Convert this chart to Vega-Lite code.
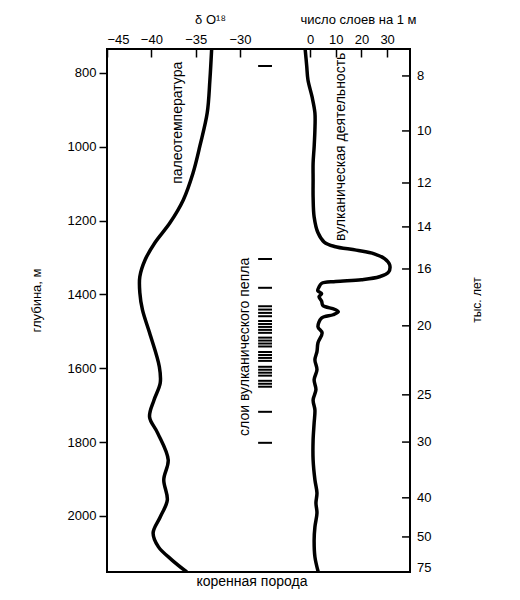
{
  "$schema": "https://vega.github.io/schema/vega-lite/v6.json",
  "width": 303,
  "height": 523,
  "autosize": {"type": "none"},
  "padding": {"left": 107, "top": 49, "right": 110, "bottom": 28},
  "background": "white",
  "config": {
    "font": "Liberation Sans",
    "view": {"stroke": "black", "strokeWidth": 2},
    "axis": {"labelFontSize": 13, "labelColor": "black", "tickColor": "black", "tickWidth": 1.5, "titleFontSize": 13, "titleFontWeight": "normal", "titleColor": "black", "grid": false, "domain": false}
  },
  "datasets": {
    "d18o": [
      {"depth": 735, "d18o": -33.2}, {"depth": 819, "d18o": -33.4}, {"depth": 908, "d18o": -33.7},
      {"depth": 995, "d18o": -34.5}, {"depth": 1071, "d18o": -35.3}, {"depth": 1144, "d18o": -36.4},
      {"depth": 1206, "d18o": -37.9}, {"depth": 1260, "d18o": -39.6}, {"depth": 1306, "d18o": -40.7},
      {"depth": 1352, "d18o": -41.3}, {"depth": 1395, "d18o": -41.3}, {"depth": 1442, "d18o": -41.0},
      {"depth": 1504, "d18o": -40.2}, {"depth": 1596, "d18o": -39.1}, {"depth": 1640, "d18o": -39.0},
      {"depth": 1686, "d18o": -39.7}, {"depth": 1732, "d18o": -40.2}, {"depth": 1775, "d18o": -39.3},
      {"depth": 1848, "d18o": -38.1}, {"depth": 1902, "d18o": -38.6}, {"depth": 1957, "d18o": -38.2},
      {"depth": 2003, "d18o": -39.0}, {"depth": 2046, "d18o": -39.8}, {"depth": 2084, "d18o": -39.2},
      {"depth": 2119, "d18o": -37.7}, {"depth": 2152, "d18o": -36.0}
    ],
    "volcanic": [
      {"depth": 735, "count": -1.9}, {"depth": 780, "count": -1.3}, {"depth": 819, "count": -0.8},
      {"depth": 865, "count": 0.8}, {"depth": 908, "count": 1.9}, {"depth": 954, "count": 1.9},
      {"depth": 1000, "count": 1.6}, {"depth": 1044, "count": 1.2}, {"depth": 1090, "count": 1.2},
      {"depth": 1136, "count": 1.2}, {"depth": 1190, "count": 1.6}, {"depth": 1233, "count": 3.1},
      {"depth": 1258, "count": 5.5}, {"depth": 1270, "count": 9.5}, {"depth": 1280, "count": 18},
      {"depth": 1290, "count": 25}, {"depth": 1303, "count": 29}, {"depth": 1320, "count": 31},
      {"depth": 1340, "count": 30.5}, {"depth": 1352, "count": 27}, {"depth": 1360, "count": 20},
      {"depth": 1365, "count": 10}, {"depth": 1370, "count": 4.5}, {"depth": 1380, "count": 3.5},
      {"depth": 1390, "count": 3.0}, {"depth": 1398, "count": 4.5}, {"depth": 1406, "count": 3.5},
      {"depth": 1418, "count": 4.5}, {"depth": 1430, "count": 5.0}, {"depth": 1440, "count": 9.5},
      {"depth": 1447, "count": 11}, {"depth": 1455, "count": 9}, {"depth": 1464, "count": 4.5},
      {"depth": 1488, "count": 3.1}, {"depth": 1504, "count": 4.7}, {"depth": 1531, "count": 3.1},
      {"depth": 1555, "count": 2.7}, {"depth": 1577, "count": 1.9}, {"depth": 1604, "count": 2.7},
      {"depth": 1631, "count": 1.6}, {"depth": 1658, "count": 2.3}, {"depth": 1686, "count": 1.2},
      {"depth": 1713, "count": 1.9}, {"depth": 1748, "count": 1.6}, {"depth": 1794, "count": 1.2},
      {"depth": 1848, "count": 1.2}, {"depth": 1902, "count": 1.9}, {"depth": 1938, "count": 2.7},
      {"depth": 1965, "count": 2.3}, {"depth": 1992, "count": 2.7}, {"depth": 2030, "count": 1.9},
      {"depth": 2065, "count": 1.6}, {"depth": 2111, "count": 1.9}, {"depth": 2152, "count": 3.2}
    ],
    "ash": [
      {"depth": 781}, {"depth": 1304}, {"depth": 1382},
      {"depth": 1432}, {"depth": 1441}, {"depth": 1450}, {"depth": 1459},
      {"depth": 1472}, {"depth": 1480}, {"depth": 1488}, {"depth": 1496}, {"depth": 1504},
      {"depth": 1517}, {"depth": 1525}, {"depth": 1533}, {"depth": 1541},
      {"depth": 1556}, {"depth": 1564}, {"depth": 1572}, {"depth": 1580},
      {"depth": 1596}, {"depth": 1604}, {"depth": 1612}, {"depth": 1620},
      {"depth": 1634}, {"depth": 1642}, {"depth": 1650},
      {"depth": 1718}, {"depth": 1802}
    ],
    "ages": [
      {"depth": 808, "age": 8}, {"depth": 957, "age": 10}, {"depth": 1098, "age": 12},
      {"depth": 1217, "age": 14}, {"depth": 1331, "age": 16}, {"depth": 1485, "age": 20},
      {"depth": 1672, "age": 25}, {"depth": 1800, "age": 30}, {"depth": 1951, "age": 40},
      {"depth": 2057, "age": 50}, {"depth": 2141, "age": 75}
    ],
    "labels": [
      {"label": "палеотемпература", "x": -51.4, "depth": 935, "kind": "v"},
      {"label": "вулканическая деятельность", "x": 12, "depth": 1000, "kind": "v"},
      {"label": "слои вулканического пепла", "x": -25.3, "depth": 1542, "kind": "v"},
      {"label": "коренная порода", "x": -22.6, "depth": 2179, "kind": "h"},
      {"label": "тыс. лет", "x": 65, "depth": 1415, "kind": "t"}
    ]
  },
  "layer": [
    {
      "data": {"name": "d18o"},
      "mark": {"type": "line", "color": "black", "strokeWidth": 3.5, "interpolate": "catmull-rom", "clip": true},
      "encoding": {
        "x": {"field": "d18o", "type": "quantitative",
          "scale": {"domain": [-45, -10.84], "nice": false, "zero": false},
          "axis": {"orient": "top", "values": [-45, -40, -35, -30], "tickSize": -8, "labelPadding": 11, "labelFlush": true,
            "title": "δ O¹⁸", "titleX": 103, "titleY": -26, "titleAlign": "center", "titleBaseline": "alphabetic"}},
        "y": {"field": "depth", "type": "quantitative",
          "scale": {"domain": [735, 2152], "reverse": true, "nice": false, "zero": false},
          "axis": {"orient": "left", "values": [800, 1000, 1200, 1400, 1600, 1800, 2000], "format": "d", "tickSize": 8, "labelPadding": 3,
            "title": "глубина, м", "titleX": -71, "titleY": 251, "titleAngle": 270, "titleAlign": "center", "titleBaseline": "middle"}},
        "order": {"field": "depth", "type": "quantitative"}
      }
    },
    {
      "layer": [
        {
          "data": {"name": "volcanic"},
          "mark": {"type": "line", "color": "black", "strokeWidth": 3.5, "interpolate": "catmull-rom", "clip": true},
          "encoding": {
            "x": {"field": "count", "type": "quantitative",
              "scale": {"domain": [-79, 38.9], "nice": false, "zero": false},
              "axis": {"orient": "top", "values": [0, 10, 20, 30], "tickSize": -8, "labelPadding": 11,
                "title": "число слоев на 1 м", "titleX": 251, "titleY": -26, "titleAlign": "center", "titleBaseline": "alphabetic"}},
            "y": {"field": "depth", "type": "quantitative"},
            "order": {"field": "depth", "type": "quantitative"}
          }
        },
        {
          "data": {"name": "ash"},
          "mark": {"type": "rule", "color": "black", "strokeWidth": 2},
          "encoding": {
            "x": {"datum": -20.2},
            "x2": {"datum": -14.8},
            "y": {"field": "depth", "type": "quantitative"}
          }
        },
        {
          "data": {"name": "ages"},
          "transform": [{"filter": "datum.age < 75"}],
          "mark": {"type": "rule", "color": "black", "strokeWidth": 1.5},
          "encoding": {
            "x": {"datum": 35.8},
            "x2": {"datum": 38.9},
            "y": {"field": "depth", "type": "quantitative"}
          }
        },
        {
          "data": {"name": "ages"},
          "mark": {"type": "text", "color": "black", "fontSize": 13, "align": "left", "baseline": "middle", "dx": 7},
          "encoding": {
            "x": {"datum": 38.9},
            "y": {"field": "depth", "type": "quantitative"},
            "text": {"field": "age", "type": "quantitative"}
          }
        },
        {
          "data": {"name": "labels"},
          "transform": [{"filter": "datum.kind == 'v'"}],
          "mark": {"type": "text", "color": "black", "fontSize": 14, "angle": 270, "align": "center", "baseline": "middle"},
          "encoding": {
            "x": {"field": "x", "type": "quantitative"},
            "y": {"field": "depth", "type": "quantitative"},
            "text": {"field": "label"}
          }
        },
        {
          "data": {"name": "labels"},
          "transform": [{"filter": "datum.kind == 't'"}],
          "mark": {"type": "text", "color": "black", "fontSize": 12, "angle": 270, "align": "center", "baseline": "middle"},
          "encoding": {
            "x": {"field": "x", "type": "quantitative"},
            "y": {"field": "depth", "type": "quantitative"},
            "text": {"field": "label"}
          }
        },
        {
          "data": {"name": "labels"},
          "transform": [{"filter": "datum.kind == 'h'"}],
          "mark": {"type": "text", "color": "black", "fontSize": 14, "align": "center", "baseline": "middle"},
          "encoding": {
            "x": {"field": "x", "type": "quantitative"},
            "y": {"field": "depth", "type": "quantitative"},
            "text": {"field": "label"}
          }
        }
      ]
    }
  ],
  "resolve": {"scale": {"x": "independent"}}
}
